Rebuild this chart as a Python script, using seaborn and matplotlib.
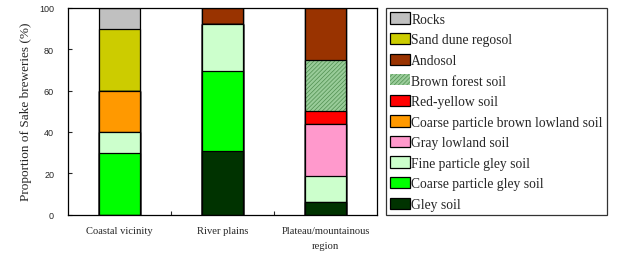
import matplotlib
matplotlib.use("Agg")
import matplotlib.pyplot as plt
import seaborn as sns
import numpy as np
import pandas as pd
from matplotlib.patches import Patch

categories = ["Coastal vicinity", "River plains", "Plateau/mountainous\nregion"]
# stacking order bottom -> top
series = ["Gley soil", "Coarse particle gley soil", "Fine particle gley soil",
          "Gray lowland soil", "Coarse particle brown lowland soil", "Red-yellow soil",
          "Brown forest soil", "Andosol", "Sand dune regosol", "Rocks"]
gley = [0, 30.8, 6.25]
coarse_gley = [30, 38.5, 0]
fine_gley = [10, 23.1, 12.5]
gray_lowland = [0, 0, 25]
coarse_brown = [20, 0, 0]
red_yellow = [0, 0, 6.25]
brown_forest = [0, 0, 25]
andosol = [0, 7.7, 25]
sand_dune = [30, 0, 0]
rocks = [10, 0, 0]
values = [gley, coarse_gley, fine_gley, gray_lowland, coarse_brown, red_yellow,
          brown_forest, andosol, sand_dune, rocks]
colors = ["#003300", "#00ff00", "#ccffcc", "#ff99cc", "#ff9900", "#ff0000",
          "#99cc99", "#993300", "#cccc00", "#c0c0c0"]
yticks = [0, 20, 40, 60, 80, 100]

sns.set_style("white")
plt.rcParams["hatch.linewidth"] = 0.5
fig = plt.figure(figsize=(6.18, 2.55), dpi=100)
ax = fig.add_axes([68/618, 1-215.5/255, 309/618, 206.5/255])

cum = np.cumsum(np.array(values), axis=0)
# draw from top layer downward so lower layers cover upper ones
for i in range(len(series)-1, -1, -1):
    df = pd.DataFrame({"cat": categories, "val": cum[i]})
    if series[i] == "Brown forest soil":
        sns.barplot(data=df, x="cat", y="val", color=colors[i], saturation=1,
                    width=0.4, edgecolor="#4f8f4f", linewidth=0, hatch="////////", ax=ax)
        sns.barplot(data=df, x="cat", y="val", fill=False, width=0.4,
                    edgecolor="black", linewidth=0.9, ax=ax)
    else:
        sns.barplot(data=df, x="cat", y="val", color=colors[i], saturation=1,
                    width=0.4, edgecolor="black", linewidth=0.9, ax=ax)

ax.set_xlim(-0.5, 2.5)
ax.set_ylim(0, 100)
ax.set_yticks(yticks)
ax.set_yticklabels([str(t) for t in yticks], fontsize=6.5, family="Liberation Sans")
ax.set_xticks([0, 1, 2])
ax.set_xticklabels(categories, fontsize=7.6, family="Liberation Serif", linespacing=1.9)
ax.tick_params(axis="x", length=0, pad=8)
ax.set_xticks([0.5, 1.5], minor=True)
ax.tick_params(axis="x", which="minor", direction="in", length=3, width=0.8, bottom=True)
ax.tick_params(axis="y", direction="in", length=3, width=0.8, left=True, pad=10)
ax.set_xlabel("")
ax.set_ylabel("Proportion of Sake breweries (%)", fontsize=9.5, family="Liberation Serif", labelpad=5)
for s in ax.spines.values():
    s.set_linewidth(0.9)
    s.set_color("black")

handles = []
for i in range(len(series)-1, -1, -1):
    if series[i] == "Brown forest soil":
        handles.append(Patch(facecolor=colors[i], edgecolor="#4f8f4f", hatch="////////", linewidth=0))
    else:
        handles.append(Patch(facecolor=colors[i], edgecolor="black", linewidth=0.9))
labels = [series[i] for i in range(len(series)-1, -1, -1)]
leg = fig.legend(handles, labels, loc="upper left", bbox_to_anchor=(386/618, 1-9/255),
                 frameon=True, fancybox=False, prop={"family": "Liberation Serif", "size": 9.8},
                 handlelength=1.4, handleheight=0.9, handletextpad=0.12,
                 labelspacing=0.53, borderpad=0.33, borderaxespad=0)
leg.get_frame().set_edgecolor("black")
leg.get_frame().set_linewidth(0.9)

fig.savefig("out.png", dpi=100)
